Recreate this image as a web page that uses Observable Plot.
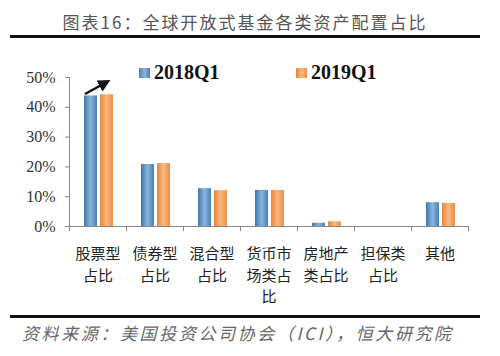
<!DOCTYPE html>
<html><head><meta charset="utf-8">
<script src="https://cdn.jsdelivr.net/npm/d3@7"></script>
<script src="https://cdn.jsdelivr.net/npm/@observablehq/plot@0.6"></script>
<style>
body{margin:0;background:#fff;}
#wrap{position:relative;width:500px;height:356px;overflow:hidden;background:#fff;}
#wrap svg.plot{position:absolute;left:0;top:0;}
.title{position:absolute;left:0;width:490px;top:9px;text-align:center;font-family:"Noto Sans CJK SC",sans-serif;font-size:17px;letter-spacing:2px;color:#555;}
.hr{position:absolute;left:10px;width:470px;height:3px;background:#111;}
.foot{position:absolute;left:22px;top:320px;font-family:"Noto Sans CJK SC",sans-serif;font-size:17px;font-style:italic;letter-spacing:2.6px;color:#666;white-space:nowrap;}
.leg{position:absolute;top:61px;font-family:"Liberation Serif",serif;font-weight:bold;font-size:20px;color:#111;display:flex;align-items:center;}
.leg i{display:inline-block;width:11px;height:10px;margin-right:4px;}
#arrow{position:absolute;left:0;top:0;}
</style></head>
<body><div id="wrap"></div>
<script>
const categories = ["股票型\n占比","债券型\n占比","混合型\n占比","货币市\n场类占\n比","房地产\n类占比","担保类\n占比","其他"];
const series = ["2018Q1","2019Q1"];
const values2018 = [43.8, 20.8, 12.7, 12.1, 1.1, 0, 8.0];
const values2019 = [44.2, 21.1, 12.0, 12.1, 1.6, 0, 7.7];
const yTicks = [0,10,20,30,40,50];

const rows = [];
categories.forEach((c,i)=>{
  rows.push({cat:c, s:series[0], v:values2018[i]});
  rows.push({cat:c, s:series[1], v:values2019[i]});
});

const chart = Plot.plot({
  width: 500, height: 356,
  marginLeft: 69, marginRight: 32, marginTop: 77, marginBottom: 130,
  style: {fontFamily: "Liberation Serif, serif", fontSize: "16px", color: "#333", background: "transparent"},
  x: {domain: categories, padding: 0, label: null},
  y: {domain: [0,50], ticks: yTicks, label: null},
  marks: [
    Plot.axisY({ticks: yTicks, tickFormat: d => d + "%", tickSize: 4, tickPadding: 10, stroke: "#888", fill: "#333", fontSize: 16, label: null}),
    Plot.ruleX([categories[0]], {dx: -28.5, y1: 0, y2: 50, stroke: "#888"}),
    Plot.barY(rows.filter(d=>d.s===series[0]), {x:"cat", y:"v", fill:"url(#gBlue)", insetLeft:15, insetRight:29}),
    Plot.barY(rows.filter(d=>d.s===series[1]), {x:"cat", y:"v", fill:"url(#gOrange)", insetLeft:31, insetRight:13}),
    Plot.ruleY([0], {stroke: "#888"}),
    Plot.ruleX(categories, {x: d => d, dx: -28.5, y1: 0, y2: -1.7, stroke: "#888"}),
    Plot.ruleX([categories[categories.length-1]], {x: d => d, dx: 28.5, y1: 0, y2: -1.7, stroke: "#888"}),
    Plot.axisX({tickSize: 0, tickPadding: 17, lineHeight: 1.45, fontSize: 15, fontFamily: "Noto Sans CJK SC, sans-serif", fill: "#222", label: null})
  ]
});
chart.classList.add("plot");
const ns = "http://www.w3.org/2000/svg";
const defs = document.createElementNS(ns, "defs");
defs.innerHTML = `
<linearGradient id="gBlue" x1="0" x2="1" y1="0" y2="0">
 <stop offset="0" stop-color="#3f78ab"/><stop offset="0.5" stop-color="#86b6dc"/><stop offset="1" stop-color="#4a80b3"/>
</linearGradient>
<linearGradient id="gOrange" x1="0" x2="1" y1="0" y2="0">
 <stop offset="0" stop-color="#e8853c"/><stop offset="0.5" stop-color="#fbb87e"/><stop offset="1" stop-color="#ed8e46"/>
</linearGradient>`;
chart.insertBefore(defs, chart.firstChild);

const wrap = document.getElementById("wrap");
wrap.appendChild(chart);
wrap.insertAdjacentHTML("beforeend", `
<div class="title">图表16：全球开放式基金各类资产配置占比</div>
<div class="hr" style="top:35px"></div>
<div class="leg" style="left:139px"><i style="background:linear-gradient(90deg,#4a80b3,#86b6dc,#4a80b3)"></i>${series[0]}</div>
<div class="leg" style="left:296px"><i style="background:linear-gradient(90deg,#e8853c,#fbb87e,#ed8e46)"></i>${series[1]}</div>
<svg id="arrow" width="500" height="356"><defs><marker id="ah" viewBox="0 0 10 10" refX="5" refY="5" markerWidth="5" markerHeight="5" orient="auto"><path d="M0,0L10,5L0,10z" fill="#111"/></marker></defs>
<line x1="85" y1="94" x2="105" y2="83" stroke="#111" stroke-width="2.5" marker-end="url(#ah)"/></svg>
<div class="hr" style="top:315px"></div>
<div class="foot">资料来源：美国投资公司协会（ICI），恒大研究院</div>
`);
</script></body></html>
